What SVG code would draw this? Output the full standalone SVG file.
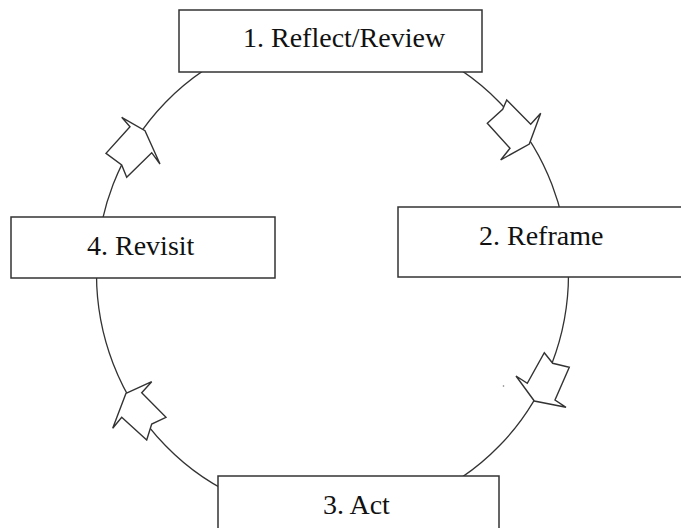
<svg xmlns="http://www.w3.org/2000/svg" width="681" height="528" viewBox="0 0 681 528">
<style>
.box{fill:#fff;stroke:#333;stroke-width:1.5}
.lbl{font-family:'Liberation Serif','Times New Roman',Times,'DejaVu Serif',serif;font-size:28px;fill:#111}
.ring{fill:none;stroke:#333;stroke-width:1.3}
.arr{fill:#fff;stroke:#333;stroke-width:1.4;stroke-linejoin:miter}
</style>
<rect width="681" height="528" fill="#fff"/>
<g id="connectors">
<ellipse class="ring" cx="332.5" cy="274" rx="236" ry="243"/>
<polygon class="arr" points="506.7,100 502.7,109.3 487.3,123.3 510,148.3 500.7,160 529.3,144 540.7,113.3 530.7,124.3"/>
<polygon class="arr" points="544.3,352.7 552.7,363.3 569.3,367.3 555,400 566,407.3 534.3,401 516,376 527.3,383.3"/>
<polygon class="arr" points="121.7,117.3 145,130.7 160,164 151.7,152.7 126.7,177.3 121.7,165 106,153.3 130,126.7"/>
<polygon class="arr" points="126,393.3 151.7,381.7 141.7,392.7 166,417.3 151.7,424 146.7,440 121.7,417.3 112.7,428.3"/>
<circle cx="503.5" cy="386" r="0.8" fill="#777"/>
</g>
<g id="node1">
<rect class="box" x="179" y="10" width="303" height="62"/>
<text class="lbl" x="243" y="47" font-family="Liberation Serif, serif">1. Reflect/Review</text>
</g>
<g id="node2">
<rect class="box" x="398" y="207" width="300" height="70"/>
<text class="lbl" x="479" y="245">2. Reframe</text>
</g>
<g id="node3">
<rect class="box" x="218" y="476" width="281" height="70"/>
<text class="lbl" x="323" y="514">3. Act</text>
</g>
<g id="node4">
<rect class="box" x="11" y="217" width="264" height="61"/>
<text class="lbl" x="87" y="255">4. Revisit</text>
</g>
</svg>
